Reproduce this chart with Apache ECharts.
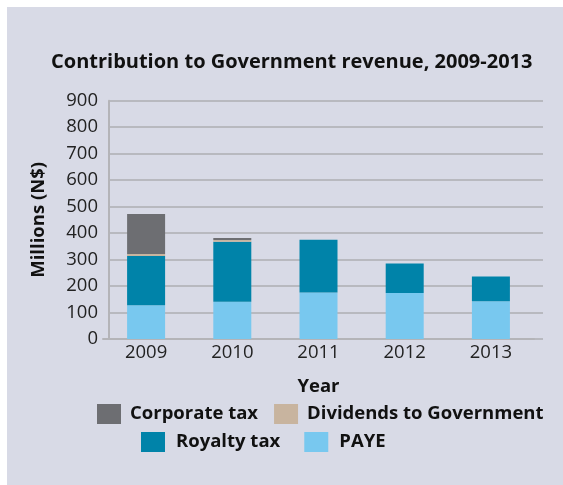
<!DOCTYPE html>
<html>
<head>
<meta charset="utf-8">
<style>
  html, body { margin: 0; padding: 0; background: #ffffff; }
  #chart { width: 563px; height: 485px; }
</style>
<script src="https://cdn.jsdelivr.net/npm/echarts@6/dist/echarts.min.js"></script>
</head>
<body>
<div id="chart"></div>
<script>
// Contribution to Government revenue by year (N$ millions)
const years = ['2009', '2010', '2011', '2012', '2013'];
const paye = [127, 141, 176, 174, 143];
const royaltyTax = [186, 226, 199, 111, 93];
const dividends = [8, 7, 0, 0, 0];
const corporateTax = [151, 7, 0, 0, 0];
const yTicks = [0, 100, 200, 300, 400, 500, 600, 700, 800, 900];

const colors = {
  corporate: '#6d6e72',
  dividends: '#c8b49f',
  royalty: '#0083a9',
  paye: '#78c8ef'
};

const chart = echarts.init(document.getElementById('chart'), null, { renderer: 'canvas' });

const tickFont = { fontFamily: 'Open Sans', fontSize: 18.5, color: '#222' };
const boldFont = 'Open Sans';

function barSeries(name, data, color) {
  return {
    name: name,
    type: 'bar',
    stack: 'total',
    data: data,
    barWidth: 38,
    xAxisIndex: 1,
    yAxisIndex: 1,
    itemStyle: { color: color },
    emphasis: { disabled: true }
  };
}

chart.setOption({
  animation: false,
  backgroundColor: '#ffffff',
  graphic: [{
    type: 'rect',
    left: 7, top: 7,
    shape: { width: 556, height: 478 },
    style: { fill: '#d8dae6' },
    z: -10
  }],
  title: {
    text: 'Contribution to Government revenue, 2009-2013',
    left: 46,
    top: 47,
    textStyle: { fontFamily: boldFont, fontWeight: 'bold', fontSize: 20, color: '#111' }
  },
  legend: [{
    data: ['Corporate tax', 'Dividends to Government'],
    left: 97, top: 404, padding: 0,
    itemWidth: 24, itemHeight: 20, itemGap: 16,
    icon: 'rect',
    textStyle: { fontFamily: boldFont, fontWeight: 'bold', fontSize: 18.5, color: '#111', padding: [0, 0, 0, 4] }
  }, {
    data: ['Royalty tax', 'PAYE'],
    left: 141, top: 432, padding: 0,
    itemWidth: 24, itemHeight: 20, itemGap: 24,
    icon: 'rect',
    textStyle: { fontFamily: boldFont, fontWeight: 'bold', fontSize: 18.5, color: '#111', padding: [0, 0, 0, 6] }
  }],
  grid: [
    // axes frame and gridlines
    { left: 109, right: 20, top: 100.7, bottom: 146, containLabel: false },
    // bars
    { left: 103, right: 29, top: 100.7, bottom: 146, containLabel: false }
  ],
  xAxis: [{
    gridIndex: 0,
    type: 'value',
    min: 0, max: 1,
    axisLine: { show: false },
    axisTick: { show: false },
    axisLabel: { show: false },
    splitLine: { show: false }
  }, {
    gridIndex: 1,
    type: 'category',
    data: years,
    axisLine: { show: true, lineStyle: { color: '#b4b4b8', width: 2 } },
    axisTick: { show: false },
    axisLabel: Object.assign({ margin: 4 }, tickFont),
    name: 'Year',
    nameLocation: 'middle',
    nameGap: 38,
    nameTextStyle: { fontFamily: boldFont, fontWeight: 'bold', fontSize: 18.5, color: '#111' }
  }],
  yAxis: [{
    gridIndex: 0,
    type: 'value',
    min: 0, max: 900, interval: 100,
    axisLine: { show: true, lineStyle: { color: '#b4b4b8', width: 2 } },
    axisTick: { show: false },
    axisLabel: Object.assign({ margin: 11, formatter: v => yTicks.includes(v) ? String(v) : '' }, tickFont),
    splitLine: { show: true, lineStyle: { color: '#aeaeb2', width: 1.5 } },
    name: 'Millions (N$)',
    nameLocation: 'middle',
    nameGap: 61,
    nameTextStyle: { fontFamily: boldFont, fontWeight: 'bold', fontSize: 18.5, color: '#111' }
  }, {
    gridIndex: 1,
    type: 'value',
    min: 0, max: 900, interval: 100,
    show: false
  }],
  series: [
    barSeries('PAYE', paye, colors.paye),
    barSeries('Royalty tax', royaltyTax, colors.royalty),
    barSeries('Dividends to Government', dividends, colors.dividends),
    barSeries('Corporate tax', corporateTax, colors.corporate)
  ]
});
</script>
</body>
</html>
